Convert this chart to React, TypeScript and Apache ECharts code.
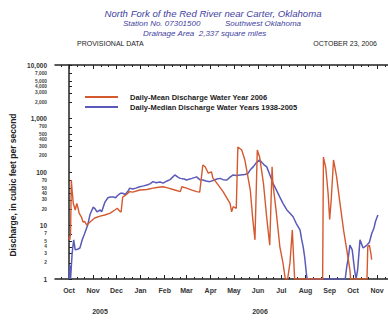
import React, { useEffect, useRef } from 'react';
import * as echarts from 'echarts';

// Day 0 = Oct 1, 2005
const MONTH_DAYS = [0, 31, 61, 92, 123, 151, 182, 212, 243, 273, 304, 335, 365, 396];
const MONTH_LABELS = ['Oct', 'Nov', 'Dec', 'Jan', 'Feb', 'Mar', 'Apr', 'May', 'Jun', 'Jul', 'Aug', 'Sep', 'Oct', 'Nov'];
const MINOR_DAYS = [-10, 10, 20, 41, 51, 71, 81, 102, 112, 133, 143, 161, 171, 192, 202, 222, 232, 253, 263, 283, 293, 314, 324, 345, 355, 375, 385, 406];
const Y_TICKS = [1, 2, 3, 4, 5, 7, 10, 20, 30, 40, 50, 70, 100, 200, 300, 400, 500, 700, 1000, 2000, 3000, 4000, 5000, 7000, 10000];
const YEAR_LABELS = ['2005', '2006'];

const MEAN_NAME = 'Daily-Mean Discharge Water Year 2006';
const MEDIAN_NAME = 'Daily-Median Discharge Water Years 1938-2005';

// [day, cfs]; zero flow plotted at the axis floor (1)
const MEAN_2006: [number, number][] = [
  [0, 6.1], [1, 5.4], [2, 7.2], [3, 71], [4, 45], [5.5, 26], [8, 19.5], [10, 26], [12, 20], [13, 17],
  [16, 14.4], [18, 11.6], [20, 12], [23, 10.2], [27, 11.6], [33, 13.8], [40, 15], [46, 15.7], [53, 17],
  [59, 19.5], [62, 21], [66, 18], [67, 18], [69, 34], [74, 38], [78, 43], [82, 42], [91, 46], [100, 47],
  [108, 50], [115, 52], [121, 53], [128, 50], [136, 46], [143, 43], [145, 53], [151, 50], [158, 46],
  [164, 43], [168, 42], [172, 135], [175, 125], [179, 95], [183, 101], [185, 77], [190, 62], [198, 43],
  [207, 26], [209, 18], [211, 22.5], [215, 21], [217, 293], [222, 258], [226, 168], [230, 80], [233, 46],
  [236, 14], [239, 5.4], [242, 258], [245, 191], [250, 60], [254, 14.6], [258, 4.3], [261, 125], [262, 62],
  [266, 20], [271, 4], [275, 2], [278, 1], [281, 1], [284, 2], [287, 8.2], [290, 1], [326, 1], [327, 190],
  [330, 120], [333, 40], [335, 13], [337, 30], [340, 168], [344, 80], [348, 28], [353, 8], [357, 3.5],
  [361, 1.5], [362, 1], [383, 1], [384, 4], [386, 4.3], [388, 3], [389, 2.3],
];

const MEDIAN_1938_2005: [number, number][] = [
  [0, 1], [1, 1.8], [2, 1], [4, 3], [6, 5.4], [8, 3.5], [11, 3.6], [14, 3.8], [17, 5.4], [20, 7],
  [24, 10.2], [27, 16], [31, 22], [33, 21], [36, 18], [40, 19.5], [42, 18], [46, 27], [50, 33], [53, 34],
  [57, 34], [60, 33], [62, 36], [66, 40], [69, 40], [72, 38], [76, 44], [78, 50], [82, 48], [86, 50],
  [91, 53], [96, 55], [100, 57], [104, 60], [108, 66], [112, 63], [117, 65], [121, 62], [126, 68],
  [130, 72], [136, 88], [140, 80], [143, 76], [148, 74], [151, 71], [158, 76], [164, 81], [168, 72],
  [172, 71], [176, 68], [181, 66], [186, 70], [190, 74], [194, 76], [198, 72], [203, 71], [207, 80],
  [211, 88], [215, 86], [220, 88], [226, 90], [230, 94], [233, 110], [237, 126], [241, 150], [245, 168],
  [248, 150], [251, 135], [254, 126], [258, 90], [262, 62], [266, 48], [271, 34], [275, 26], [280, 19.5],
  [284, 17], [288, 14.6], [292, 11], [297, 8.2], [299, 5.5], [301, 4], [303, 2.5], [305, 1.3], [306, 1],
  [355, 1], [357, 1.7], [359, 2.5], [361, 4.3], [364, 3.5], [367, 1.5], [369, 1], [371, 1.5], [374, 5.4],
  [378, 3.8], [383, 4.3], [386, 4.8], [389, 7], [392, 9], [394, 12], [397, 15.7],
];

const ORANGE = '#d5592f';
const BLUE = '#5a5ab8';
const AXIS = '#222';
const TITLE = '#4242a0';
const FONT = 'Liberation Sans, Arial, sans-serif';

function fmtNum(v: number) {
  return Math.round(v).toLocaleString('en-US');
}

export default function App() {
  const ref = useRef<HTMLDivElement>(null);
  useEffect(() => {
    document.body.style.margin = '0';
    const chart = echarts.init(ref.current!, null, { renderer: 'svg' });
    const xBase = { type: 'value', min: -18, max: 410, splitLine: { show: false } } as any;
    const option: any = {
      animation: false,
      backgroundColor: '#fff',
      textStyle: { fontFamily: FONT },
      grid: { left: 55, right: 0, top: 65, bottom: 42 },
      legend: {
        orient: 'vertical',
        left: 80,
        top: 87,
        itemWidth: 33,
        itemHeight: 2,
        itemGap: 0,
        icon: 'rect',
        data: [MEAN_NAME, MEDIAN_NAME],
        textStyle: { fontFamily: FONT, fontSize: 7.5, fontWeight: 'bold', color: '#222', lineHeight: 10, padding: [0, 0, 0, 7] },
      },
      xAxis: [
        {
          ...xBase,
          position: 'bottom',
          axisLine: { show: true, lineStyle: { color: AXIS, width: 1.5 } },
          axisTick: { show: true, inside: true, length: 4, customValues: MONTH_DAYS, lineStyle: { color: AXIS } },
          axisLabel: {
            customValues: MONTH_DAYS,
            formatter: (v: number) => MONTH_LABELS[MONTH_DAYS.indexOf(v)] ?? '',
            fontSize: 7, fontWeight: 'bold', color: '#333', margin: 8, fontFamily: FONT,
          },
        },
        {
          ...xBase,
          position: 'top',
          axisLine: { show: true, lineStyle: { color: AXIS, width: 1.5 } },
          axisTick: { show: true, inside: true, length: 4, customValues: MONTH_DAYS, lineStyle: { color: AXIS } },
          axisLabel: { show: false },
        },
        {
          ...xBase,
          position: 'bottom',
          axisLine: { show: false },
          axisTick: { show: true, inside: true, length: 2, customValues: MINOR_DAYS, lineStyle: { color: AXIS } },
          axisLabel: { show: false },
        },
        {
          ...xBase,
          position: 'top',
          axisLine: { show: false },
          axisTick: { show: true, inside: true, length: 2, customValues: MINOR_DAYS, lineStyle: { color: AXIS } },
          axisLabel: { show: false },
        },
      ],
      yAxis: {
        type: 'log',
        logBase: 10,
        min: 1,
        max: 10000,
        splitLine: { show: false },
        axisLine: { show: true, lineStyle: { color: AXIS, width: 1.5 } },
        axisTick: { show: true, inside: true, length: 3, customValues: Y_TICKS, lineStyle: { color: AXIS } },
        axisLabel: {
          customValues: Y_TICKS,
          margin: 8,
          formatter: (v: number) => {
            const l = Math.log10(v);
            const major = Math.abs(l - Math.round(l)) < 1e-6;
            return major ? `{a|${fmtNum(v)}}` : `{b|${fmtNum(v)}}`;
          },
          rich: {
            a: { fontSize: 6.5, fontWeight: 'bold', color: '#333', fontFamily: FONT },
            b: { fontSize: 4.8, fontWeight: 'bold', color: '#444', fontFamily: FONT },
          },
        },
      },
      series: [
        {
          name: MEDIAN_NAME,
          type: 'line',
          showSymbol: false,
          data: MEDIAN_1938_2005,
          color: BLUE,
          lineStyle: { color: BLUE, width: 1.5 },
          clip: true,
        },
        {
          name: MEAN_NAME,
          type: 'line',
          showSymbol: false,
          data: MEAN_2006,
          color: ORANGE,
          lineStyle: { color: ORANGE, width: 1.4 },
          clip: true,
        },
      ],
      graphic: [
        { type: 'text', x: 213, y: 8, style: { text: 'North Fork of the Red River near Carter, Oklahoma', fontFamily: FONT, fontSize: 9.6, fontStyle: 'italic', fill: TITLE, align: 'center' } },
        { type: 'text', x: 123, y: 19, style: { text: 'Station No. 07301500', fontFamily: FONT, fontSize: 8, fontStyle: 'italic', fill: TITLE } },
        { type: 'text', x: 225, y: 19, style: { text: 'Southwest Oklahoma', fontFamily: FONT, fontSize: 8, fontStyle: 'italic', fill: TITLE } },
        { type: 'text', x: 143, y: 29, style: { text: 'Drainage Area  2,337 square miles', fontFamily: FONT, fontSize: 8, fontStyle: 'italic', fill: TITLE } },
        { type: 'text', x: 77, y: 40, style: { text: 'PROVISIONAL DATA', fontFamily: FONT, fontSize: 7, fill: '#222' } },
        { type: 'text', x: 377, y: 40, style: { text: 'OCTOBER 23, 2006', fontFamily: FONT, fontSize: 7, fill: '#222', align: 'right' } },
        { type: 'text', x: 13, y: 185, rotation: Math.PI / 2, style: { text: 'Discharge, in cubic feet per second', fontFamily: FONT, fontSize: 8.5, fontWeight: 'bold', fill: '#222', align: 'center', verticalAlign: 'middle' } },
        { type: 'text', x: 100, y: 311, style: { text: YEAR_LABELS[0], fontFamily: FONT, fontSize: 7, fontWeight: 'bold', fill: '#333', align: 'center', verticalAlign: 'middle' } },
        { type: 'text', x: 260, y: 311, style: { text: YEAR_LABELS[1], fontFamily: FONT, fontSize: 7, fontWeight: 'bold', fill: '#333', align: 'center', verticalAlign: 'middle' } },
      ],
    };
    chart.setOption(option);
    return () => chart.dispose();
  }, []);
  return <div ref={ref} style={{ width: 388, height: 321 }} />;
}
